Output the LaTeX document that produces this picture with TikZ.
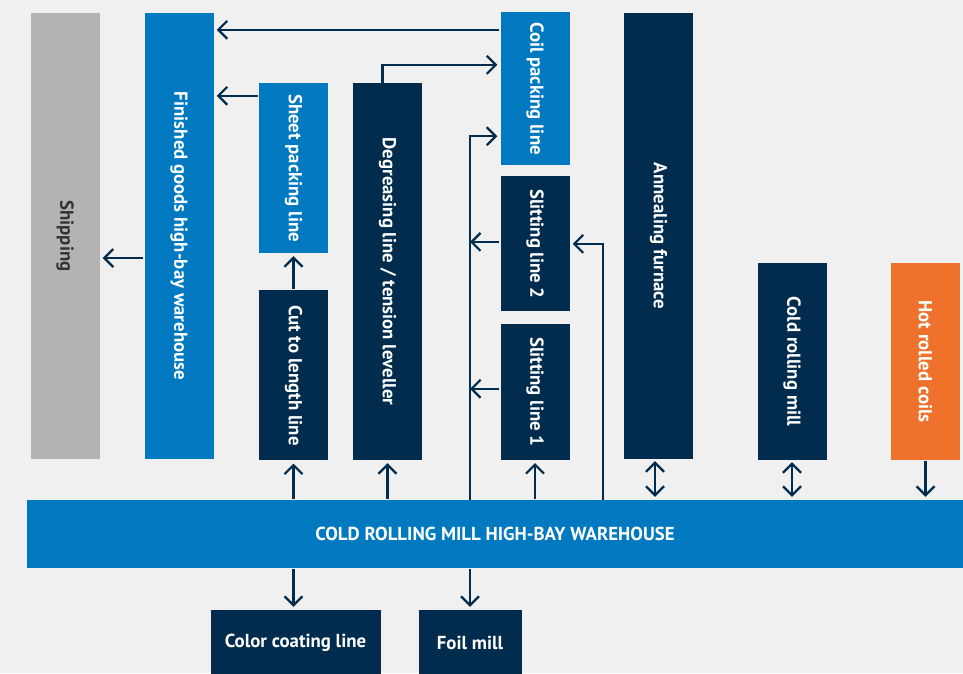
\documentclass[tikz,border=0pt]{standalone}
\usepackage{fontspec}
\setmainfont{PT Sans}
\usetikzlibrary{arrows.meta,positioning}
\definecolor{mynavy}{HTML}{012C4D}
\definecolor{myblue}{HTML}{0079C1}
\definecolor{myorange}{HTML}{EE722C}
\definecolor{mygray}{HTML}{B3B3B3}
\definecolor{mybg}{HTML}{F0F0F0}

\begin{document}
\begin{tikzpicture}[
    x=1pt, y=-1pt,
    every node/.style={font=\bfseries\fontsize{18.8}{22}\selectfont, inner sep=0pt},
    unit/.style={rectangle, minimum width=69pt, text=white},
    darkbox/.style={unit, fill=mynavy},
    bluebox/.style={unit, fill=myblue},
    vtext/.style={label={[rotate=-90, text=white]center:#1}},
    flow/.style={draw=mynavy, line width=2.2pt, shorten >=3pt, shorten <=1pt,
      -{Straight Barb[length=9pt, width=18pt]}},
    both/.style={flow, {Straight Barb[length=9pt, width=18pt]}-{Straight Barb[length=9pt, width=18pt]}, shorten <=2pt}
    ]
  \useasboundingbox[fill=mybg] (0,0) rectangle (963,673);

  % stores and shipping
  \node [unit, fill=mygray, minimum height=446pt, label={[rotate=-90, text=black!80]center:Shipping}] (ship) at (65,236) {};
  \node [bluebox, minimum height=446pt, vtext=Finished goods high-bay warehouse] (fin) at (179,236) {};
  \node [bluebox, minimum width=936pt, minimum height=68pt] (wh) at (495,534) {COLD ROLLING MILL HIGH-BAY WAREHOUSE};

  % finishing lines
  \node [bluebox, minimum height=170pt, vtext=Sheet packing line] (sheet) at (293.5,168) {};
  \node [darkbox, minimum height=170pt, vtext=Cut to length line, below=37pt of sheet] (cut) {};
  \node [darkbox, minimum height=377pt, vtext=Degreasing line / tension leveller] (degr) at (387.5,271.5) {};
  \node [bluebox, minimum height=153pt, vtext=Coil packing line] (coil) at (535,88.5) {};
  \node [darkbox, minimum height=135pt, vtext=Slitting line 2, below=11pt of coil] (slit2) {};
  \node [darkbox, minimum height=136pt, vtext=Slitting line 1, below=12pt of slit2] (slit1) {};

  % rolling and annealing
  \node [darkbox, minimum height=446pt, vtext=Annealing furnace] (anneal) at (658.5,236) {};
  \node [darkbox, minimum height=197pt, vtext=Cold rolling mill] (crm) at (792,361.5) {};
  \node [unit, fill=myorange, minimum height=197pt, vtext=Hot rolled coils] (hot) at (925.5,361.5) {};

  % below the warehouse
  \node [darkbox, minimum width=170pt, minimum height=66pt] (color) at (295.5,643) {Color coating line};
  \node [darkbox, minimum width=103pt, minimum height=66pt] (foil) at (470,643) {Foil mill};

  % arrows
  \draw [flow] ([yshift=-18pt]coil.north west) -- ([yshift=-18pt]coil.north west -| fin.east);
  \draw [flow] ([yshift=-13pt]sheet.north west) -- ([yshift=-13pt]sheet.north west -| fin.east);
  \draw [flow] ([yshift=-22pt]fin.west) -- ([yshift=-22pt]fin.west -| ship.east);
  \draw [flow, shorten <=0pt] ([xshift=-5pt]degr.north) |- ([yshift=-53pt]coil.north west);
  \draw [flow] (cut.north) -- (sheet.south);
  \draw [flow] (cut.south |- wh.north) -- (cut.south);
  \draw [flow] (degr.south |- wh.north) -- (degr.south);
  \draw [flow] (slit1.south |- wh.north) -- (slit1.south);
  \draw [flow, shorten <=0pt] (foil.north |- wh.north) |- ([yshift=29pt]coil.south west);
  \draw [flow, shorten >=0pt] ([yshift=2pt]slit2.west) -- ([yshift=2pt]slit2.west -| foil.north);
  \draw [flow, shorten >=0pt] ([yshift=3pt]slit1.west) -- ([yshift=3pt]slit1.west -| foil.north);
  \draw [flow, shorten <=0pt] ([xshift=-21pt]anneal.west |- wh.north) |- (slit2.east);
  \draw [both] ([xshift=-3.5pt]anneal.south) -- ([xshift=-3.5pt]anneal.south |- wh.north);
  \draw [both] (crm.south) -- (crm.south |- wh.north);
  \draw [flow] (hot.south) -- (hot.south |- wh.north);
  \draw [flow] (cut.south |- wh.south) -- (cut.south |- color.north);
  \draw [flow] (foil.north |- wh.south) -- (foil.north);
\end{tikzpicture}
\end{document}
